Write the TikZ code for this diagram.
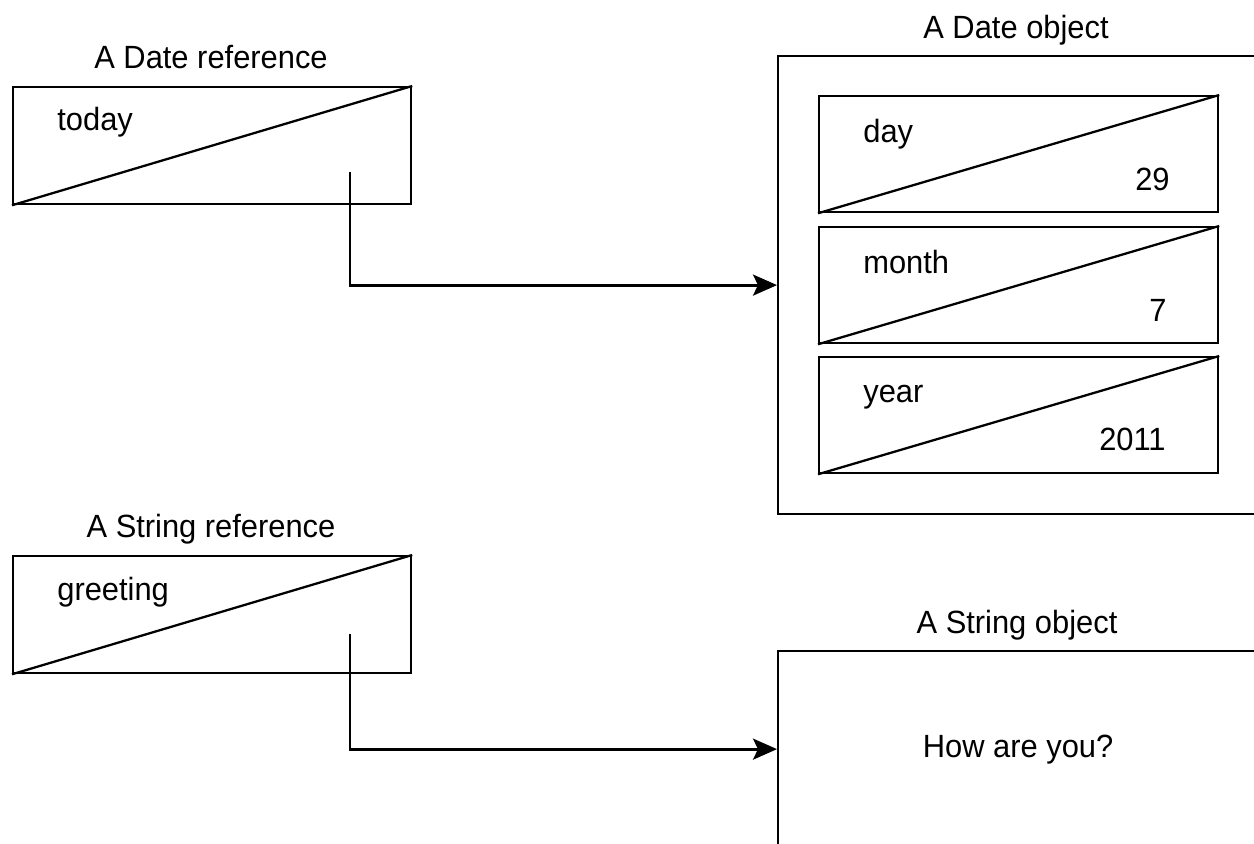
\documentclass[tikz,border=0pt]{standalone}
\usepackage{fontspec}
\setmainfont{Liberation Sans}[FakeStretch=0.96]
\usepackage{tikz}
\usetikzlibrary{arrows.meta,positioning,calc}

\begin{document}
\begin{tikzpicture}[x=0.02cm, y=-0.02cm, font=\fontsize{18.3}{22}\selectfont,
  refbox/.style={draw, line width=1.3pt, inner sep=0pt, anchor=north west,
                 minimum width=7.96cm, minimum height=2.34cm},
  fieldbox/.style={draw, line width=1.3pt, inner sep=0pt, anchor=north west,
                 minimum width=7.98cm, minimum height=2.32cm},
  objbox/.style={draw, line width=1.3pt, inner sep=0pt, anchor=north west},
  title/.style={inner sep=0pt, anchor=base},
  lbl/.style={inner sep=0pt, anchor=base west},
  val/.style={inner sep=0pt, anchor=base east},
  arr/.style={-{Stealth[length=4.8mm,width=4.2mm,inset=1mm]}, line width=1.7pt}]
  \path[use as bounding box, fill=white] (0,0) rectangle (1254,843);
  % Date reference
  \node[title] (datereftitle) at (211,68) {A Date reference};
  \node[refbox] (today) at (12,86) {};
  \draw[line width=1.3pt] (today.south west) -- (today.north east);
  \node[lbl] (todaylbl) at (57,130) {today};
  \coordinate (todayptr) at (350,172);
  % Date object
  \node[title] (dateobjtitle) at (1016,38) {A Date object};
  \node[objbox, minimum width=10cm, minimum height=9.16cm] (dateobj) at (777,55) {};
  \node[fieldbox] (day) at (818,95) {};
  \node[fieldbox] (month) at (818,226) {};
  \node[fieldbox] (year) at (818,356) {};
  \foreach \f in {day,month,year}
    \draw[line width=1.3pt] (\f.south west) -- (\f.north east);
  \node[lbl] (daylbl) at (863,142) {day};
  \node[val] (dayval) at (1170,190) {29};
  \node[lbl] (monthlbl) at (863,273) {month};
  \node[val] (monthval) at (1167,321) {7};
  \node[lbl] (yearlbl) at (863,402) {year};
  \node[val] (yearval) at (1166,450) {2011};
  \draw[arr] (todayptr) |- (dateobj.west);
  % String reference
  \node[title] (strreftitle) at (211,537) {A String reference};
  \node[refbox] (greeting) at (12,555) {};
  \draw[line width=1.3pt] (greeting.south west) -- (greeting.north east);
  \node[lbl] (greetinglbl) at (57,600) {greeting};
  \coordinate (greetingptr) at (350,634);
  % String object
  \node[title] (strobjtitle) at (1017,633) {A String object};
  \node[objbox, minimum width=9.6cm, minimum height=3.92cm] (strobj) at (777,650) {How are you?};
  \draw[arr] (greetingptr) |- (strobj.west);
\end{tikzpicture}
\end{document}
